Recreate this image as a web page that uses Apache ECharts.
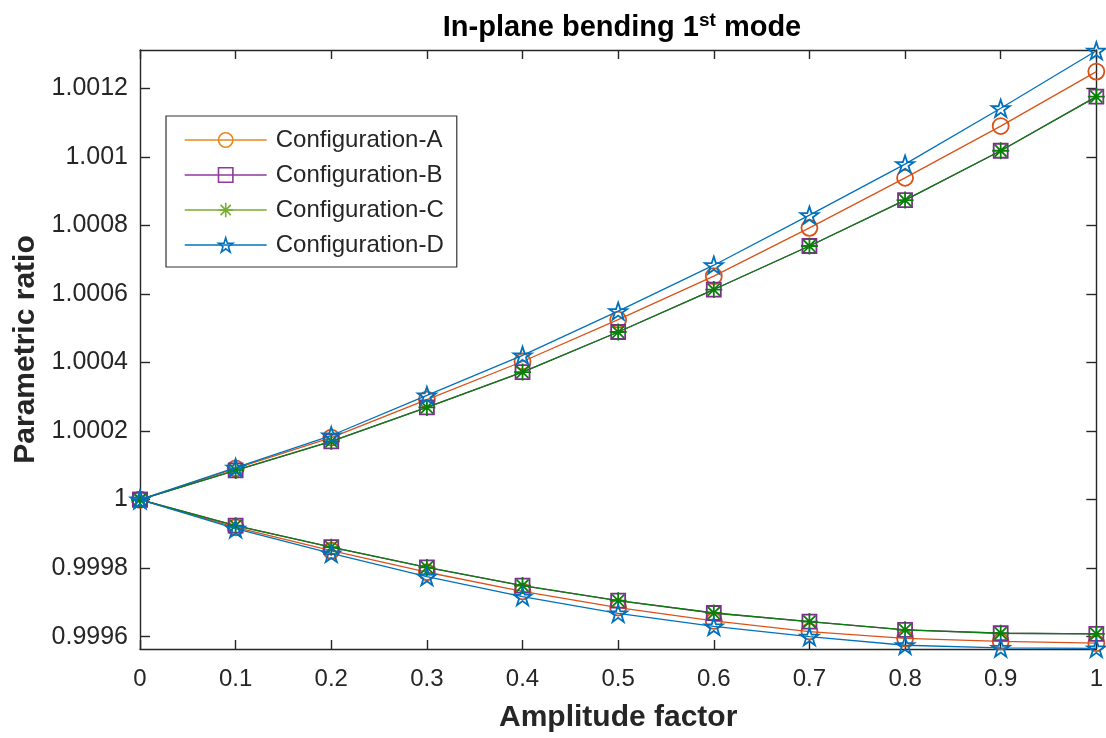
<!DOCTYPE html>
<html>
<head>
<meta charset="utf-8">
<script src="https://cdn.jsdelivr.net/npm/echarts@6/dist/echarts.min.js"></script>
<style>html,body{margin:0;padding:0;background:#fff;}#chart{width:1106px;height:738px;}</style>
</head>
<body>
<div id="chart"></div>
<script>
const xValues = [0, 0.1, 0.2, 0.3, 0.4, 0.5, 0.6, 0.7, 0.8, 0.9, 1];
const xTicks = [0, 0.1, 0.2, 0.3, 0.4, 0.5, 0.6, 0.7, 0.8, 0.9, 1];
const yTicks = [0.9996, 0.9998, 1, 1.0002, 1.0004, 1.0006, 1.0008, 1.001, 1.0012];
const configNames = ['Configuration-A', 'Configuration-B', 'Configuration-C', 'Configuration-D'];

const A_upper = [1, 1.000091, 1.000181, 1.000292, 1.000403, 1.000525, 1.000652, 1.000793, 1.000939, 1.001090, 1.001249];
const A_lower = [1, 0.999919, 0.999851, 0.999788, 0.999732, 0.999685, 0.999646, 0.999615, 0.999595, 0.999586, 0.999581];
const B_upper = [1, 1.000085, 1.000170, 1.000269, 1.000372, 1.000489, 1.000613, 1.000740, 1.000874, 1.001018, 1.001176];
const B_lower = [1, 0.999924, 0.999861, 0.999802, 0.999749, 0.999705, 0.999669, 0.999644, 0.999620, 0.999610, 0.999608];
const C_upper = [1, 1.000085, 1.000170, 1.000269, 1.000372, 1.000489, 1.000613, 1.000740, 1.000874, 1.001018, 1.001176];
const C_lower = [1, 0.999924, 0.999861, 0.999802, 0.999749, 0.999705, 0.999669, 0.999644, 0.999620, 0.999610, 0.999608];
const D_upper = [1, 1.0000935, 1.000187, 1.000304, 1.000421, 1.000550, 1.000684, 1.000830, 1.000979, 1.001142, 1.001310];
const D_lower = [1, 0.999915, 0.999843, 0.999775, 0.999717, 0.999668, 0.999630, 0.999600, 0.999575, 0.999567, 0.999566];

const yMin = 0.999564, yMax = 1.001312;

const FONT = '"Liberation Sans", Arial, Helvetica, sans-serif';
const AXC = '#262626';
const starPath = 'path://M0,-1L0.2245,-0.309L0.951,-0.309L0.363,0.118L0.588,0.809L0,0.382L-0.588,0.809L-0.363,0.118L-0.951,-0.309L-0.2245,-0.309Z';
const asteriskPath = 'path://M0,-1L0,1M-1,0L1,0M-0.7071,-0.7071L0.7071,0.7071M-0.7071,0.7071L0.7071,-0.7071';

const styles = [
  {line: '#D95319', legend: '#E8891E', symbol: 'circle', size: 16},
  {line: '#7E2F8E', legend: '#8E3A9E', symbol: 'rect', size: 14},
  {line: '#0A7F0A', legend: '#77AC30', symbol: asteriskPath, size: 17},
  {line: '#0072BD', legend: '#0072BD', symbol: starPath, size: 18}
];
const branches = [[A_upper, A_lower], [B_upper, B_lower], [C_upper, C_lower], [D_upper, D_lower]];

const series = [];
branches.forEach((br, i) => {
  const st = styles[i];
  br.forEach(vals => {
    series.push({
      name: configNames[i],
      type: 'line',
      data: xValues.map((x, k) => [x, vals[k]]),
      symbol: st.symbol,
      symbolSize: st.size,
      symbolKeepAspect: true,
      showAllSymbol: true,
      clip: false,
      lineStyle: {color: st.line, width: 1.3},
      itemStyle: {color: 'rgba(0,0,0,0)', borderColor: st.line, borderWidth: 1.8},
      emphasis: {disabled: true},
      z: 2 + i
    });
  });
});

const fmt = v => String(parseFloat(Number(v).toFixed(4)));

const chart = echarts.init(document.getElementById('chart'), null, {renderer: 'canvas'});
chart.setOption({
  animation: false,
  backgroundColor: '#fff',
  title: {
    text: '{a|In-plane bending 1}{s|st}{a| mode}',
    left: 617,
    textAlign: 'center',
    top: 6,
    textStyle: {
      rich: {
        a: {fontFamily: FONT, fontWeight: 'bold', fontSize: 29, color: '#000'},
        s: {fontFamily: FONT, fontWeight: 'bold', fontSize: 19, color: '#000', verticalAlign: 'top', padding: [0, 0, 14, 0]}
      }
    }
  },
  legend: {
    orient: 'vertical',
    left: 166,
    top: 116,
    padding: [12, 13, 10, 18],
    itemWidth: 82,
    itemHeight: 18,
    itemGap: 11,
    backgroundColor: '#fff',
    borderColor: '#333',
    borderWidth: 1.2,
    selectedMode: false,
    textStyle: {fontFamily: FONT, fontSize: 24, color: AXC, lineHeight: 24, padding: [0, 0, 0, 4]},
    data: configNames.map((n, i) => ({
      name: n,
      itemStyle: {color: 'rgba(0,0,0,0)', borderColor: styles[i].legend, borderWidth: 1.6},
      lineStyle: {color: styles[i].legend, width: 1.4}
    }))
  },
  grid: {left: 140, right: 8, top: 50, bottom: 89, containLabel: false},
  xAxis: [{
    type: 'value', min: 0, max: 1, interval: 0.1,
    name: 'Amplitude factor', nameLocation: 'middle', nameGap: 54,
    nameTextStyle: {fontFamily: FONT, fontWeight: 'bold', fontSize: 30, color: AXC},
    axisLine: {show: true, onZero: false, lineStyle: {color: AXC, width: 1.4}},
    axisTick: {show: true, inside: true, length: 9, lineStyle: {color: AXC, width: 1.4}, customValues: xTicks},
    axisLabel: {fontFamily: FONT, fontSize: 24, color: AXC, margin: 18, formatter: fmt, customValues: xTicks},
    splitLine: {show: false}
  }, {
    type: 'value', min: 0, max: 1, interval: 0.1, position: 'top',
    axisLine: {show: true, onZero: false, lineStyle: {color: AXC, width: 1.4}},
    axisTick: {show: true, inside: true, length: 9, lineStyle: {color: AXC, width: 1.4}, customValues: xTicks},
    axisLabel: {show: false},
    splitLine: {show: false}
  }],
  yAxis: [{
    type: 'value', min: yMin, max: yMax, scale: true,
    name: 'Parametric ratio', nameLocation: 'middle', nameGap: 96,
    nameTextStyle: {fontFamily: FONT, fontWeight: 'bold', fontSize: 30, color: AXC},
    axisLine: {show: true, onZero: false, lineStyle: {color: AXC, width: 1.4}},
    axisTick: {show: true, inside: true, length: 10, lineStyle: {color: AXC, width: 1.4}, customValues: yTicks},
    axisLabel: {fontFamily: FONT, fontSize: 25, color: AXC, margin: 12, formatter: fmt, customValues: yTicks},
    splitLine: {show: false}
  }, {
    type: 'value', min: yMin, max: yMax, scale: true, position: 'right',
    axisLine: {show: true, onZero: false, lineStyle: {color: AXC, width: 1.4}},
    axisTick: {show: true, inside: true, length: 10, lineStyle: {color: AXC, width: 1.4}, customValues: yTicks},
    axisLabel: {show: false},
    splitLine: {show: false}
  }],
  series: series
});
</script>
</body>
</html>
